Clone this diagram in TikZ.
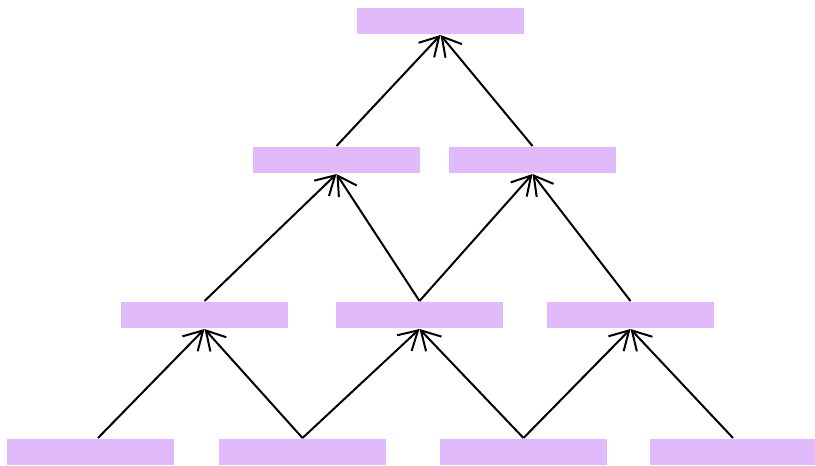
\documentclass[tikz,border=0pt]{standalone}
\usetikzlibrary{arrows.meta}
\definecolor{boxpurple}{RGB}{224,186,250}

\begin{document}
\begin{tikzpicture}[x=0.75pt, y=-0.75pt, line width=1.5pt,
  cell/.style={fill=boxpurple, draw=none, inner sep=0pt,
    minimum width=125.25pt, minimum height=19.5pt},
  up/.style={-{Straight Barb[length=14pt, width=16pt]}}]
  \useasboundingbox (0,0) rectangle (815,465);
  \node[cell] (T) at (440.5,21) {};
  \node[cell] (M1) at (336.5,160) {};
  \node[cell] (M2) at (532.5,160) {};
  \node[cell] (L1) at (204.5,315) {};
  \node[cell] (L2) at (419.5,315) {};
  \node[cell] (L3) at (630.5,315) {};
  \node[cell] (B1) at (90.5,452) {};
  \node[cell] (B2) at (302.5,452) {};
  \node[cell] (B3) at (523.5,452) {};
  \node[cell] (B4) at (733,452) {};
  % bottom row
  \draw[up] ([xshift=5.6pt]B1.north) -- (L1.south);
  \draw[up] (B2.north) -- (L1.south);
  \draw[up] (B2.north) -- (L2.south);
  \draw[up] (B3.north) -- (L2.south);
  \draw[up] (B3.north) -- (L3.south);
  \draw[up] (B4.north) -- (L3.south);
  % middle rows
  \draw[up] (L1.north) -- (M1.south);
  \draw[up] (L2.north) -- (M1.south);
  \draw[up] (L2.north) -- (M2.south);
  \draw[up] (L3.north) -- (M2.south);
  \draw[up] (M1.north) -- (T.south);
  \draw[up] (M2.north) -- (T.south);
\end{tikzpicture}
\end{document}
